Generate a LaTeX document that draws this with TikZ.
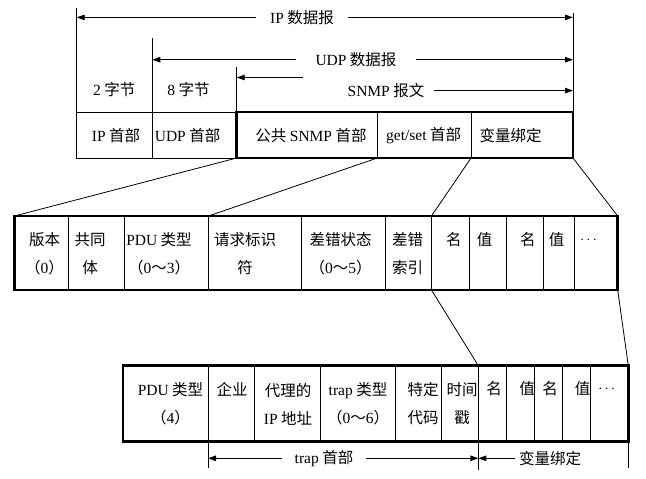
\documentclass[tikz,border=0pt]{standalone}
\usepackage{fontspec}
\setmainfont{Liberation Serif}
\newfontfamily\cjk{Noto Sans CJK SC}
\newcommand\lat[1]{{\rmfamily#1}}
\usetikzlibrary{arrows.meta}

\begin{document}
\begin{tikzpicture}[x=1pt,y=-1pt,line join=miter,
  rule/.style={line width=0.9pt},
  frame/.style={line width=2.6pt},
  link/.style={line width=0.8pt},
  span/.style={line width=0.9pt,-{Triangle[length=8pt,width=5.5pt]}},
  lbl/.style={font=\fontsize{15.5}{28}\selectfont\cjk,inner sep=0pt,align=center},
  dim/.style={lbl,inner ysep=0pt}]
\useasboundingbox (0,0) rectangle (646,479);
% upper part: IP / UDP / SNMP
\coordinate (ipL) at (76.7,8.4);
\coordinate (udpL) at (152.3,37.6);
\coordinate (snmpL) at (236.7,67);
\coordinate (allR) at (573,13.4);
\coordinate (snmpT) at (302.8,77.5);
\draw[rule] (ipL) -- (76.7,158) -- (236.7,158);
\draw[rule] (76.7,112) -- (236.7,112);
\draw[rule] (udpL) -- (152.3,158);
\draw[rule] (snmpL) -- (236.7,112);
\draw[rule] (allR) -- (573,112);
\draw[frame] (236.7,112) rectangle (573,158);
\draw[rule] (377.3,112) -- (377.3,158) (471,112) -- (471,158);
\coordinate (hdrA) at (236.7,158);
\coordinate (hdrB) at (377.3,158);
\coordinate (hdrC) at (471,158);
\coordinate (hdrD) at (573,158);

\node[dim,inner xsep=14pt] (ipdg) at (302,17.4) {\lat{IP} 数据报};
\draw[span] (ipdg.west) -- (ipdg.west -| ipL);
\draw[span] (ipdg.east) -- (ipdg.east -| allR);
\node[dim,inner xsep=19pt] (udpdg) at (356,59.7) {\lat{UDP} 数据报};
\draw[span] (udpdg.west) -- (udpdg.west -| udpL);
\draw[span] (udpdg.east) -- (udpdg.east -| allR);
\node[dim,inner xsep=9pt] (snmpmsg) at (386,90.6) {\lat{SNMP} 报文};
\draw[span] (snmpmsg.east) -- (snmpmsg.east -| allR);
\draw[span] (snmpT) -- (snmpT -| snmpL);

\node[lbl] (twob) at (114.3,90) {\lat{2} 字节};
\node[lbl] (eightb) at (188.5,90) {\lat{8} 字节};
\node[lbl] (iphdr) at (116,135.5) {\lat{IP} 首部};
\node[lbl] (udphdr) at (187.6,135.5) {\lat{UDP} 首部};
\node[lbl] (comhdr) at (311,135.5) {公共 \lat{SNMP} 首部};
\node[lbl] (gshdr) at (423.6,135.5) {\lat{get/set} 首部};
\node[lbl] (varhdr) at (510.6,135.5) {变量绑定};

% middle part: get/set PDU
\coordinate (pduA) at (14.5,216);
\coordinate (pduB) at (208.5,216);
\coordinate (pduC) at (431.5,216);
\coordinate (pduD) at (617.7,216);
\coordinate (pduE) at (431.5,290);
\coordinate (pduF) at (617.7,290);
\foreach \x in {68.7,124.7,208.5,301.6,385.6,431.5,469.5,506.5,543.6,574}
  \draw[rule] (\x,216) -- (\x,290);
\draw[frame] (pduA) rectangle (pduF);
\draw[link] (hdrA) -- (pduA);
\draw[link] (hdrB) -- (pduB);
\draw[link] (hdrC) -- (pduC);
\draw[link] (hdrD) -- (pduD);

\node[lbl] (ver) at (44.5,254) {版本\\（\lat{0}）};
\node[lbl] (comm) at (90,254) {共同\\体};
\node[lbl] (pdut) at (159,254) {\lat{PDU} 类型\\（\lat{0}～\lat{3}）};
\node[lbl] (reqid) at (245,254) {请求标识\\符};
\node[lbl] (errst) at (340.5,254) {差错状态\\（\lat{0}～\lat{5}）};
\node[lbl] (errix) at (407.5,254) {差错\\索引};
\node[lbl] (nm1) at (453.8,240) {名};
\node[lbl] (vl1) at (484.6,240) {值};
\node[lbl] (nm2) at (527.8,240) {名};
\node[lbl] (vl2) at (556.6,240) {值};
\node[lbl] (more1) at (588.5,240) {$\cdots$};

% lower part: trap PDU
\coordinate (trapA) at (478.3,365.7);
\coordinate (trapB) at (628.3,365.7);
\foreach \x in {208,254,320,395,441.7,478.3,506.7,534.3,562.7,590.7}
  \draw[rule] (\x,365.7) -- (\x,441.7);
\draw[frame] (123,365.7) rectangle (628.3,441.7);
\draw[link] (pduE) -- (trapA);
\draw[link] (pduF) -- (trapB);

\node[lbl] (pdu4) at (170.5,404) {\lat{PDU} 类型\\（\lat{4}）};
\node[lbl] (ent) at (232,389) {企业};
\node[lbl] (agent) at (288,404) {代理的\\\lat{IP} 地址};
\node[lbl] (trapty) at (358,404) {\lat{trap} 类型\\（\lat{0}～\lat{6}）};
\node[lbl] (spec) at (423,404) {特定\\代码};
\node[lbl] (tstamp) at (462,404) {时间\\戳};
\node[lbl] (nm3) at (494.2,389) {名};
\node[lbl] (vl3) at (527,389) {值};
\node[lbl] (nm4) at (550,389) {名};
\node[lbl] (vl4) at (582.5,389) {值};
\node[lbl] (more2) at (606.7,389) {$\cdots$};

\coordinate (dimL) at (208,468);
\coordinate (dimM) at (478.3,470);
\coordinate (dimR) at (628.3,468);
\draw[rule] (208,441.7) -- (dimL);
\draw[rule] (478.3,441.7) -- (dimM);
\draw[rule] (628.3,441.7) -- (dimR);
\node[dim,inner xsep=13pt] (traph) at (324,458.3) {\lat{trap} 首部};
\draw[span] (traph.west) -- (traph.west -| dimL);
\draw[span] (traph.east) -- (traph.east -| dimM);
\node[dim,inner xsep=3.5pt] (varb) at (550,458.3) {变量绑定};
\draw[span] (varb.west) -- (varb.west -| dimM);
\end{tikzpicture}
\end{document}
